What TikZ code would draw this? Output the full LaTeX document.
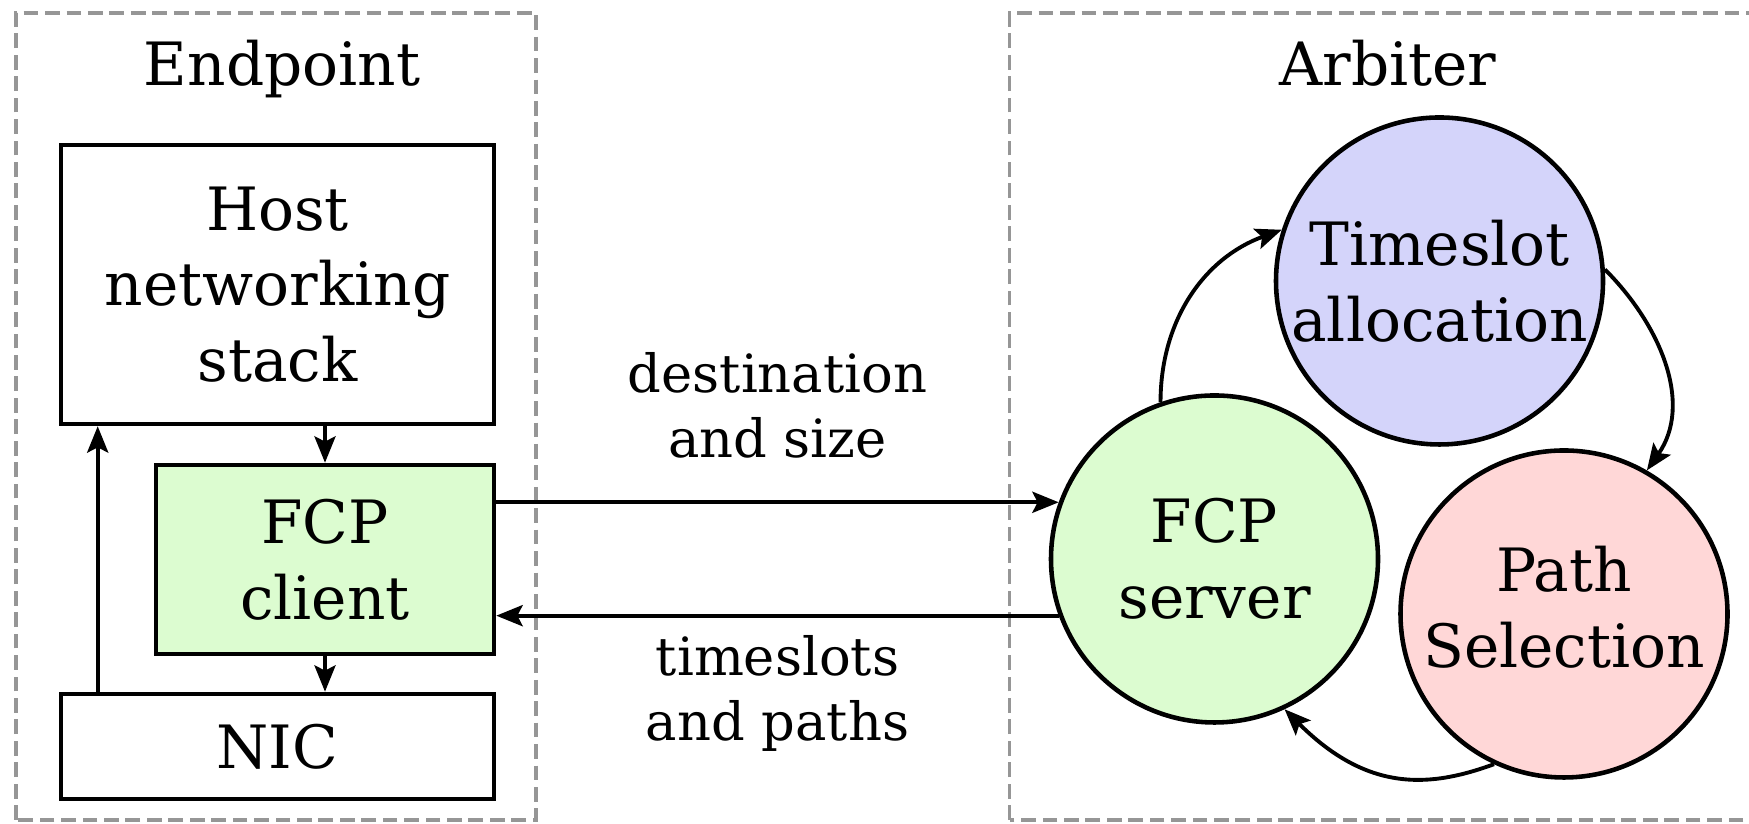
\documentclass[tikz,border=0pt]{standalone}
\usepackage{fontspec}
\setmainfont{DejaVu Serif}
\usetikzlibrary{arrows.meta}

\definecolor{clientgreen}{RGB}{220,252,208}
\definecolor{slotblue}{RGB}{212,212,250}
\definecolor{pathpink}{RGB}{255,215,215}
\definecolor{framegray}{RGB}{150,150,150}

\begin{document}
\begin{tikzpicture}[
    >={Stealth[length=7.5pt, width=6pt, inset=1.5pt]},
    box/.style={draw, line width=1.3pt, inner sep=0pt, align=center,
                font=\fontsize{17}{21.5}\selectfont},
    ball/.style={circle, draw, line width=1.3pt, minimum size=3.27cm,
                 inner sep=0pt, align=center, font=\fontsize{17}{21.5}\selectfont},
    frame/.style={draw=framegray, line width=0.9pt, dash pattern=on 4.2pt off 1.9pt},
    flow/.style={->, line width=1.1pt},
    msg/.style={inner sep=0pt, align=center, font=\fontsize{15}{18.5}\selectfont},
    title/.style={inner sep=0pt, font=\fontsize{17}{21.5}\selectfont}
]

    % ==========================================
    % CANVAS & DASHED FRAMES
    % ==========================================

    \useasboundingbox (0,0) rectangle (17.49,8.24);
    \clip (0,0) rectangle (17.49,8.24);

    % Endpoint frame on the left, arbiter frame runs off the right edge
    \draw[frame] (0.16,0.04) rectangle (5.36,8.11);
    \draw[frame] (10.095,0.04) rectangle (17.7,8.11);

    \node[title, anchor=base] (endpointTitle) at (2.82,7.38) {Endpoint};
    \node[title, anchor=base] (arbiterTitle) at (13.88,7.38) {Arbiter};

    % ==========================================
    % ENDPOINT STACK
    % ==========================================

    \node[box, minimum width=4.33cm, minimum height=2.79cm] (host) at (2.775,5.395) {Host\\networking\\stack};
    \node[box, fill=clientgreen, minimum width=3.38cm, minimum height=1.89cm] (client) at (3.25,2.645) {FCP\\client};
    \node[box, minimum width=4.33cm, minimum height=1.05cm] (nic) at (2.775,0.775) {NIC};

    % Packets go down through the client, come back up past it
    \draw[flow] (host.south -| client.north) -- (client.north);
    \draw[flow] (client.south) -- (client.south |- nic.north);
    \draw[flow] ([xshift=3.9mm]nic.north west) -- ([xshift=3.9mm]host.south west);

    % ==========================================
    % ARBITER MODULES
    % ==========================================

    \node[ball, fill=clientgreen] (server) at (12.145,2.65) {FCP\\server};
    \node[ball, fill=slotblue] (slots) at (14.395,5.43) {Timeslot\\allocation};
    % a bit of depth lifts the text slightly above the centre
    \node[ball, fill=pathpink] (paths) at (15.64,2.10) {Path\\Selection\rule[-4pt]{0pt}{4pt}};

    % Cycle server -> allocator -> path selection -> server
    \draw[flow] (server.109) to[out=90, in=200] (slots.162);
    \draw[flow] (slots.4) to[out=-45, in=55] (paths.60);
    \draw[flow] (paths.245) to[out=200, in=-45, out looseness=0.8, in looseness=1.4] (server.295);

    % ==========================================
    % REQUEST / RESPONSE BETWEEN CLIENT AND SERVER
    % ==========================================

    \draw[flow] (client.east |- server.160) -- (server.160)
        node[msg, midway, above=12pt] {destination\\and size};
    \draw[flow] (server.200) -- (client.east |- server.200)
        node[msg, midway, below=5pt] {timeslots\\and paths};

\end{tikzpicture}
\end{document}
